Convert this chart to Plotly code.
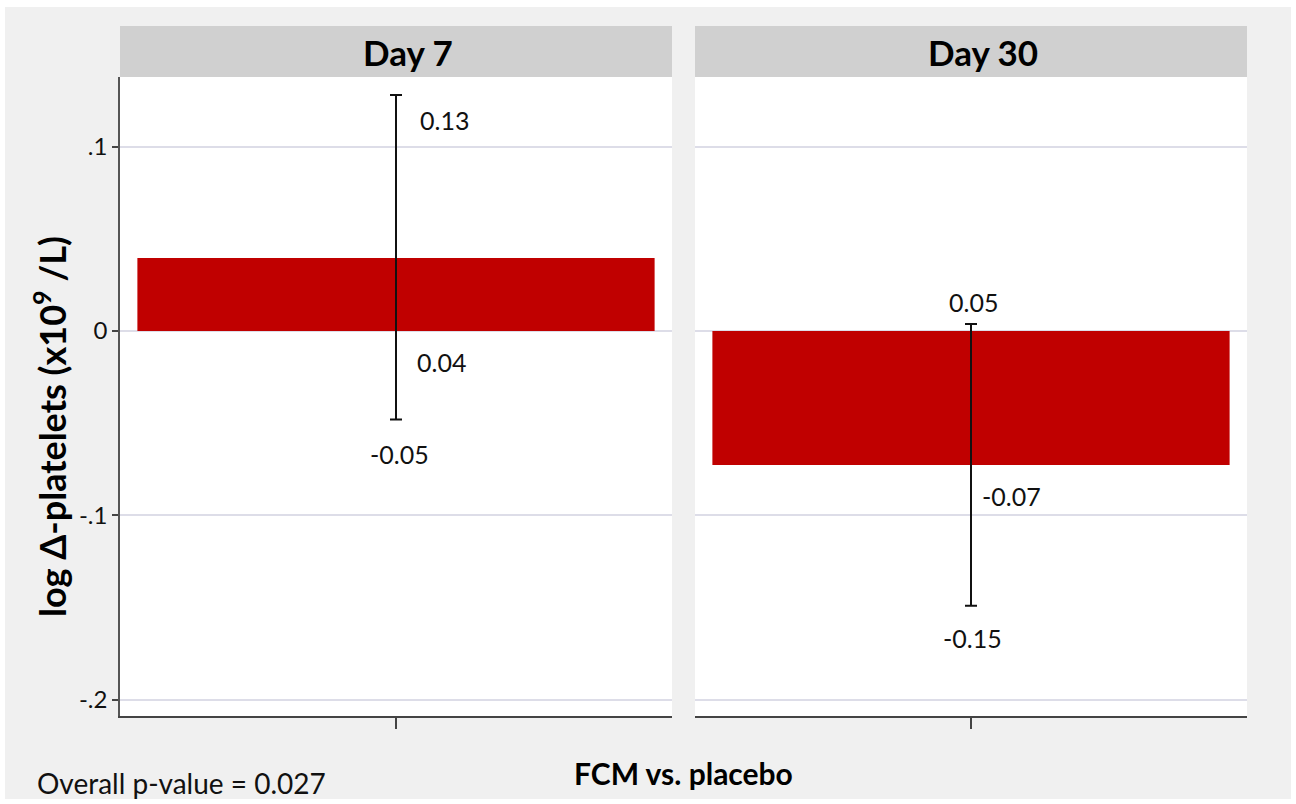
import plotly.graph_objects as go
from plotly.subplots import make_subplots

# ---- data ----
days = ["Day 7", "Day 30"]
means = [0.0396, -0.0726]
upper = [0.128, 0.0038]
lower = [-0.048, -0.149]
label_upper = ["0.13", "0.05"]
label_mean = ["0.04", "-0.07"]
label_lower = ["-0.05", "-0.15"]
y_tickvals = [-0.2, -0.1, 0, 0.1]
y_ticktext = ["-.2", "-.1", "0", ".1"]

# ---- style ----
FONT = "Lato"
BAR = "#C00000"
BG = "#F0F0F0"
HEADER = "#D0D0D0"
GRID = "#DDDDE8"

W, H = 1296, 804
ml, mr, mt, mb = 120, 49, 26, 88
pw, ph = W - ml - mr, H - mt - mb
gap_px = 23
d1 = [0, (pw - gap_px) / 2 / pw]
d2 = [1 - (pw - gap_px) / 2 / pw, 1]
header_h = 51 / ph
ydom = [0, 1 - header_h]


def px_x(px):
    return (px - ml) / pw


def px_y(py):
    return (H - mb - py) / ph


fig = make_subplots(rows=1, cols=2, shared_yaxes=True, horizontal_spacing=0.0)

for i, d in enumerate(days):
    fig.add_trace(go.Bar(
        x=[d], y=[means[i]], width=0.937,
        marker=dict(color=BAR, line=dict(width=0)),
        error_y=dict(type="data", symmetric=False,
                     array=[upper[i] - means[i]],
                     arrayminus=[means[i] - lower[i]],
                     color="#111111", thickness=2, width=6),
        showlegend=False, hoverinfo="skip"), row=1, col=i + 1)

yrange = [-0.2087, 0.1377]
xcommon = dict(range=[-0.5, 0.5], showline=True, linecolor="#444444", linewidth=2,
               ticks="outside", ticklen=11, tickcolor="#444444", tickwidth=1.5,
               showticklabels=False, showgrid=False, zeroline=False, fixedrange=True)
fig.update_layout(
    width=W, height=H,
    margin=dict(l=ml, r=mr, t=mt, b=mb),
    paper_bgcolor="white", plot_bgcolor="white",
    font=dict(family=FONT, color="#111111"),
    xaxis=dict(domain=d1, **xcommon),
    xaxis2=dict(domain=d2, **xcommon),
    yaxis=dict(domain=ydom, range=yrange, tickvals=y_tickvals, ticktext=y_ticktext,
               showline=True, linecolor="#555555", linewidth=1.5,
               ticks="outside", ticklen=6, tickcolor="#444444", tickwidth=1.5,
               tickfont=dict(size=24, family=FONT, color="#111111"),
               showgrid=True, gridcolor=GRID, gridwidth=1.5, zeroline=False,
               fixedrange=True),
    yaxis2=dict(domain=ydom, range=yrange, tickvals=y_tickvals, showticklabels=False,
                showline=False, ticks="", showgrid=True, gridcolor=GRID, gridwidth=1.5,
                zeroline=False, fixedrange=True),
)

shapes = []
# outer grey background (white rim around)
shapes.append(dict(type="rect", xref="paper", yref="paper", layer="below",
                   x0=px_x(5), x1=px_x(1291), y0=px_y(799), y1=px_y(7),
                   fillcolor=BG, line=dict(width=0)))
for dom in [d1, d2]:
    # white plotting area
    shapes.append(dict(type="rect", xref="paper", yref="paper", layer="below",
                       x0=dom[0], x1=dom[1], y0=ydom[0], y1=ydom[1],
                       fillcolor="white", line=dict(width=0)))
    # header strip
    shapes.append(dict(type="rect", xref="paper", yref="paper", layer="below",
                       x0=dom[0], x1=dom[1], y0=ydom[1], y1=1,
                       fillcolor=HEADER, line=dict(width=0)))
fig.update_layout(shapes=shapes)

ann = []
for dom, d in zip([d1, d2], days):
    ann.append(dict(xref="paper", yref="paper", x=(dom[0] + dom[1]) / 2,
                    y=(ydom[1] + 1) / 2, text="<b>%s</b>" % d, showarrow=False,
                    xanchor="center", yanchor="middle", xshift=12,
                    font=dict(size=35, family=FONT, color="#000000")))

# value labels (anchored to data values, offset in pixels)
up_style = [dict(xanchor="left", xshift=22, yshift=-25),
            dict(xanchor="center", xshift=2, yshift=22)]
mean_style = [dict(xanchor="left", xshift=19, yshift=-31),
              dict(xanchor="left", xshift=9, yshift=-31)]
low_style = [dict(xanchor="center", xshift=3, yshift=-34),
             dict(xanchor="center", xshift=1, yshift=-32)]
for i, d in enumerate(days):
    xr = "x" if i == 0 else "x2"
    yr = "y" if i == 0 else "y2"
    for val, txt, st in [(upper[i], label_upper[i], up_style[i]),
                         (min(means[i], 0), label_mean[i], mean_style[i]),
                         (lower[i], label_lower[i], low_style[i])]:
        ann.append(dict(xref=xr, yref=yr, x=d, y=val, text=txt, showarrow=False,
                        yanchor="middle", font=dict(size=25, family=FONT, color="#111111"),
                        **st))

# y title
ann.append(dict(xref="paper", yref="paper", x=px_x(50), y=px_y(427),
                text="<b>log Δ-platelets (x10<sup>9</sup> /L)</b>", showarrow=False,
                textangle=-90, xanchor="center", yanchor="middle",
                font=dict(size=36, family=FONT, color="#000000")))
# x title and footnote
ann.append(dict(xref="paper", yref="paper", x=px_x(683), y=px_y(773),
                text="<b>FCM vs. placebo</b>", showarrow=False, xanchor="center",
                yanchor="middle", font=dict(size=30, family=FONT, color="#000000")))
ann.append(dict(xref="paper", yref="paper", x=px_x(35), y=px_y(783),
                text="Overall p-value = 0.027", showarrow=False, xanchor="left",
                yanchor="middle", font=dict(size=28, family=FONT, color="#111111")))
fig.update_layout(annotations=ann)

fig.write_html("out.html", config={"displayModeBar": False},
               post_script="document.body.style.margin='0';")
